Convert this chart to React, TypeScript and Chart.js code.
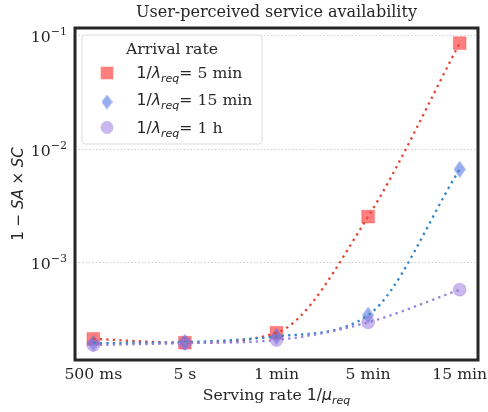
import React, { useEffect, useRef } from 'react';
import { Chart, registerables } from 'chart.js';

Chart.register(...registerables);

// ---- data ----
const xLabels = ['500 ms', '5 s', '1 min', '5 min', '15 min'];
const arrival5min = [2.14e-4, 1.98e-4, 2.42e-4, 2.55e-3, 8.59e-2];
const arrival15min = [1.96e-4, 2.0e-4, 2.25e-4, 3.46e-4, 6.65e-3];
const arrival1h = [1.89e-4, 1.96e-4, 2.09e-4, 2.99e-4, 5.8e-4];
const legendLabels = ['5 min', '15 min', '1 h'];
const yTickValues = [1e-3, 1e-2, 1e-1];
const yTickExponents = ['\u22123', '\u22122', '\u22121'];
const titleText = 'User-perceived service availability';
const legendTitle = 'Arrival rate';

// ---- styles ----
const SERIF = "'DejaVu Serif', serif";
const SANS = "'DejaVu Sans', sans-serif";
const FS = 15.7;
const TITLE_FS = 16;
const SUB = 11;
const TEXT = '#262626';

const RED_FILL = 'rgba(255,0,0,0.5)';
const BLUE_FILL = 'rgba(65,105,225,0.55)';
const PURPLE_FILL = 'rgba(147,112,219,0.5)';
const RED_LINE = '#e8412f';
const BLUE_LINE = '#2e86c8';
const PURPLE_LINE = '#9580dc';

type Part = { t: string; font: string; dy?: number };

function partsWidth(ctx: CanvasRenderingContext2D, parts: Part[]) {
  let w = 0;
  for (const p of parts) {
    ctx.font = p.font;
    w += ctx.measureText(p.t).width;
  }
  return w;
}

function drawParts(ctx: CanvasRenderingContext2D, parts: Part[], x: number, y: number, align: 'left' | 'center' | 'right') {
  const w = partsWidth(ctx, parts);
  let cx = align === 'left' ? x : align === 'center' ? x - w / 2 : x - w;
  ctx.textAlign = 'left';
  ctx.textBaseline = 'alphabetic';
  for (const p of parts) {
    ctx.font = p.font;
    ctx.fillText(p.t, cx, y + (p.dy || 0));
    cx += ctx.measureText(p.t).width;
  }
}

function makeDiamond(w: number, h: number, fill: string) {
  const c = document.createElement('canvas');
  c.width = w;
  c.height = h;
  const g = c.getContext('2d')!;
  g.fillStyle = fill;
  g.beginPath();
  g.moveTo(w / 2, 0);
  g.lineTo(w, h / 2);
  g.lineTo(w / 2, h);
  g.lineTo(0, h / 2);
  g.closePath();
  g.fill();
  return c;
}

const toPoints = (vals: number[]) => vals.map((v, i) => ({ x: i, y: v }));

const serif = (s: number) => `${s}px ${SERIF}`;
const sans = (s: number) => `${s}px ${SANS}`;
const sansI = (s: number) => `italic ${s}px ${SANS}`;

const lambdaLabel = (label: string): Part[] => [
  { t: '1/', font: sans(FS) },
  { t: '\u03bb', font: sansI(FS) },
  { t: 'req', font: sansI(SUB), dy: 4 },
  { t: '= ' + label, font: serif(FS) },
];

export default function App() {
  const ref = useRef<HTMLCanvasElement>(null);

  useEffect(() => {
    document.body.style.margin = '0';
    const canvas = ref.current!;
    const diamond = makeDiamond(12, 17, BLUE_FILL);
    const diamondLegend = makeDiamond(11, 15, BLUE_FILL);

    const decor = {
      id: 'decor',
      afterDraw(chart: any) {
        const { ctx, chartArea: a, scales } = chart;
        const xs = scales.x;
        const ys = scales.y;
        ctx.save();
        // frame
        ctx.strokeStyle = '#262626';
        ctx.lineWidth = 3;
        ctx.strokeRect(a.left, a.top, a.right - a.left, a.bottom - a.top);

        ctx.fillStyle = TEXT;
        // title
        drawParts(ctx, [{ t: titleText, font: serif(TITLE_FS) }], (a.left + a.right) / 2, 17, 'center');
        // x tick labels
        xLabels.forEach((l, i) => {
          drawParts(ctx, [{ t: l, font: serif(FS) }], xs.getPixelForValue(i), 379, 'center');
        });
        // y tick labels
        yTickValues.forEach((v, i) => {
          const py = ys.getPixelForValue(v);
          drawParts(
            ctx,
            [
              { t: '10', font: serif(FS) },
              { t: yTickExponents[i], font: serif(SUB), dy: -7 },
            ],
            67,
            py + 6.5,
            'right'
          );
        });
        // x axis title
        drawParts(
          ctx,
          [
            { t: 'Serving rate ', font: serif(FS) },
            { t: '1/', font: sans(FS) },
            { t: '\u03bc', font: sansI(FS) },
            { t: 'req', font: sansI(SUB), dy: 4 },
          ],
          (a.left + a.right) / 2,
          400,
          'center'
        );
        // y axis title
        ctx.save();
        ctx.translate(23, (a.top + a.bottom) / 2);
        ctx.rotate(-Math.PI / 2);
        drawParts(
          ctx,
          [
            { t: '1', font: sans(15) },
            { t: ' \u2212 ', font: sans(15) },
            { t: 'SA', font: sansI(15) },
            { t: ' \u00d7 ', font: sans(15) },
            { t: 'SC', font: sansI(15) },
          ],
          0,
          0,
          'center'
        );
        ctx.restore();

        // legend
        const lx = 82, ly = 35, lw = 180, lh = 109;
        ctx.beginPath();
        ctx.roundRect(lx, ly, lw, lh, 3);
        ctx.fillStyle = 'rgba(255,255,255,0.8)';
        ctx.fill();
        ctx.strokeStyle = '#dcdcdc';
        ctx.lineWidth = 1;
        ctx.stroke();
        ctx.fillStyle = TEXT;
        drawParts(ctx, [{ t: legendTitle, font: serif(FS) }], lx + lw / 2, 54, 'center');
        const baselines = [77.5, 105, 132.5];
        const mx = 107;
        // markers
        ctx.fillStyle = RED_FILL;
        ctx.fillRect(mx - 6.3, baselines[0] - 4.5 - 6.3, 12.6, 12.6);
        ctx.drawImage(diamondLegend, mx - 5.5, baselines[1] - 3 - 7.5);
        ctx.fillStyle = PURPLE_FILL;
        ctx.beginPath();
        ctx.arc(mx, baselines[2] - 5, 6.4, 0, Math.PI * 2);
        ctx.fill();
        ctx.fillStyle = TEXT;
        legendLabels.forEach((l, i) => {
          drawParts(ctx, lambdaLabel(l), 136.5, baselines[i], 'left');
        });
        ctx.restore();
      },
    };

    const lineDs = (vals: number[], color: string, order: number) => ({
      type: 'line',
      data: toPoints(vals),
      borderColor: color,
      borderWidth: 2.3,
      borderDash: [2.3, 4.2],
      borderCapStyle: 'butt',
      pointRadius: 0,
      cubicInterpolationMode: 'monotone',
      fill: false,
      order,
    });

    const chart = new Chart(canvas, {
      type: 'line',
      data: {
        datasets: [
          {
            data: toPoints(arrival5min),
            showLine: false,
            pointStyle: 'rect',
            pointRadius: 9,
            pointBackgroundColor: RED_FILL,
            pointBorderColor: 'rgba(255,0,0,0.25)',
            pointBorderWidth: 1,
            order: 6,
          },
          {
            data: toPoints(arrival15min),
            showLine: false,
            pointStyle: diamond,
            pointRadius: 8,
            pointBackgroundColor: BLUE_FILL,
            order: 5,
          },
          {
            data: toPoints(arrival1h),
            showLine: false,
            pointStyle: 'circle',
            pointRadius: 6.5,
            pointBackgroundColor: PURPLE_FILL,
            pointBorderColor: 'rgba(147,112,219,0.3)',
            pointBorderWidth: 1,
            order: 4,
          },
          lineDs(arrival5min, RED_LINE, 3),
          lineDs(arrival15min, BLUE_LINE, 2),
          lineDs(arrival1h, PURPLE_LINE, 1),
        ] as any,
      },
      options: {
        responsive: false,
        devicePixelRatio: 1,
        animation: false,
        events: [],
        layout: { padding: { top: 28, right: 9, left: 0, bottom: 0 } },
        plugins: { legend: { display: false }, tooltip: { enabled: false } },
        scales: {
          x: {
            type: 'linear',
            min: -0.2,
            max: 4.2,
            grid: { display: false },
            border: { display: false },
            ticks: { display: false },
            afterBuildTicks: (s: any) => {
              s.ticks = xLabels.map((_, i) => ({ value: i }));
            },
            afterFit: (s: any) => {
              s.height = 52;
            },
          },
          y: {
            type: 'logarithmic',
            min: 1.394e-4,
            max: 0.1167,
            grid: { color: '#cfcfcf', lineWidth: 1, drawTicks: false },
            border: { display: false, dash: [1.5, 2] },
            ticks: { display: false },
            afterBuildTicks: (s: any) => {
              s.ticks = yTickValues.map((v) => ({ value: v }));
            },
            afterFit: (s: any) => {
              s.width = 75;
            },
          },
        },
      } as any,
      plugins: [decor],
    });
    return () => chart.destroy();
  }, []);

  return (
    <div style={{ position: 'absolute', left: 0, top: 0, width: 488, height: 412 }}>
      <canvas ref={ref} width={488} height={412} style={{ display: 'block' }} />
    </div>
  );
}
